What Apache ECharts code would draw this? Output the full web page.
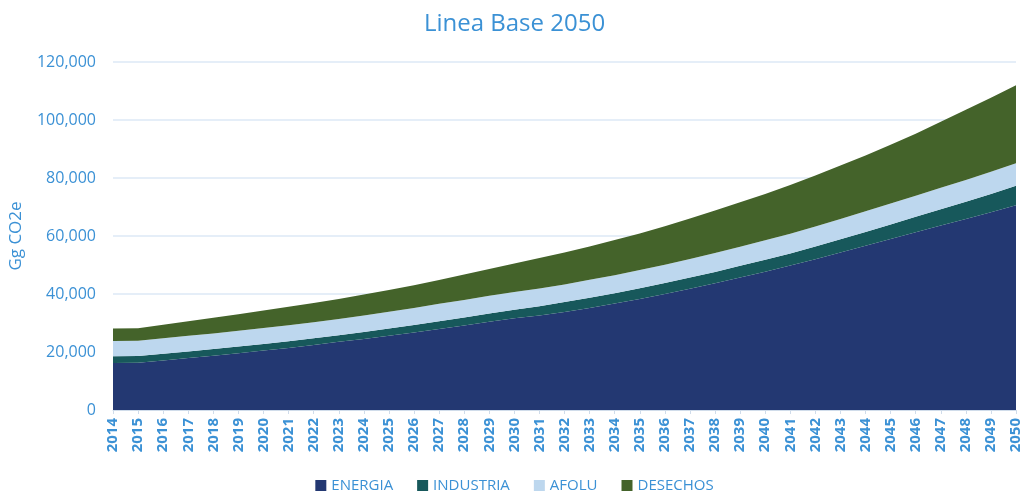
<!DOCTYPE html>
<html>
<head>
<meta charset="utf-8">
<script src="https://cdn.jsdelivr.net/npm/echarts@6/dist/echarts.min.js"></script>
<style>html,body{margin:0;padding:0;background:#fff;}#c{width:1029px;height:499px;}</style>
</head>
<body>
<div id="c"></div>
<script>
const years = ['2014','2015','2016','2017','2018','2019','2020','2021','2022','2023','2024','2025','2026','2027','2028','2029','2030','2031','2032','2033','2034','2035','2036','2037','2038','2039','2040','2041','2042','2043','2044','2045','2046','2047','2048','2049','2050'];
const energia = [16200,16300,17100,17900,18700,19600,20500,21400,22400,23500,24500,25600,26700,27900,29100,30400,31600,32600,33800,35200,36700,38300,40000,41800,43700,45700,47700,49800,52000,54300,56600,59000,61300,63600,65900,68200,70600];
const industria = [2300,2300,2300,2300,2300,2300,2300,2300,2300,2300,2400,2500,2600,2700,2800,2900,3000,3200,3400,3500,3600,3700,3800,3850,3900,4000,4100,4200,4400,4600,4800,5000,5300,5600,5900,6300,6700];
const afolu = [5300,5300,5350,5400,5400,5450,5500,5500,5550,5600,5700,5800,5900,6000,6050,6100,6100,6100,6100,6200,6200,6300,6300,6400,6500,6600,6700,6800,6900,7000,7100,7200,7300,7400,7500,7650,7800];
const desechos = [4300,4300,4650,5000,5400,5650,6000,6400,6650,6900,7200,7500,7800,8200,8750,9200,9800,10500,11000,11500,12100,12600,13300,13950,14700,15300,16000,16800,17600,18400,19300,20300,21400,22800,24200,25550,26900];
const seriesNames = ['ENERGIA','INDUSTRIA','AFOLU','DESECHOS'];
const colors = ['#233872','#17585b','#bdd7ee','#44632a'];
const txt = '#3b91d5';
const font = 'Open Sans';

const chart = echarts.init(document.getElementById('c'), null, {renderer:'canvas'});
const data = [energia, industria, afolu, desechos];
chart.setOption({
  animation: false,
  color: colors,
  title: {
    text: 'Linea Base 2050', left: 'center', top: 7,
    textStyle: {color: txt, fontFamily: font, fontSize: 24, fontWeight: 'normal'}
  },
  legend: {
    bottom: 1, left: 'center', itemWidth: 11, itemHeight: 11, itemGap: 24,
    icon: 'rect',
    textStyle: {color: txt, fontFamily: font, fontSize: 15},
    data: seriesNames
  },
  grid: {left: 111, right: 13, top: 62, bottom: 89, containLabel: false},
  xAxis: {
    type: 'category', data: years, boundaryGap: false,
    axisLine: {lineStyle: {color: '#d0dcea'}},
    axisTick: {show: true, alignWithLabel: true, length: 4, lineStyle: {color: '#d0dcea'}},
    axisLabel: {rotate: 90, color: txt, fontFamily: font, fontSize: 15, fontWeight: 'bold', margin: 8, interval: 0}
  },
  yAxis: {
    type: 'value', min: 0, max: 120000, interval: 20000,
    name: 'Gg CO2e', nameLocation: 'middle', nameGap: 88, nameRotate: 90,
    nameTextStyle: {color: txt, fontFamily: font, fontSize: 17},
    axisLine: {show: false}, axisTick: {show: false},
    axisLabel: {color: txt, fontFamily: font, fontSize: 16, margin: 17,
      formatter: v => v.toLocaleString('en-US')},
    splitLine: {lineStyle: {color: '#dde9f6', width: 1.5}}
  },
  series: data.map((d, i) => ({
    name: seriesNames[i], type: 'line', stack: 'total', data: d,
    symbol: 'none', smooth: false,
    lineStyle: {width: 0},
    areaStyle: {color: colors[i], opacity: 1}
  }))
});
</script>
</body>
</html>
